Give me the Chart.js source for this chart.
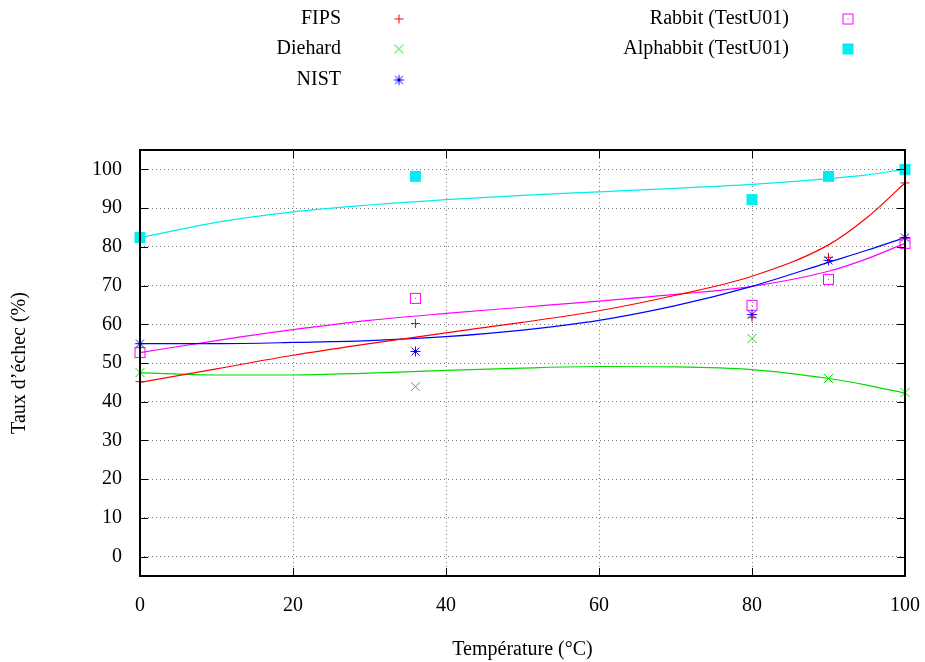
<!DOCTYPE html>
<html><head><meta charset="utf-8">
<script src="https://cdn.jsdelivr.net/npm/chart.js@4/dist/chart.umd.min.js"></script>
<style>html,body{margin:0;padding:0;background:#fff}#wrap{width:925px;height:662px;position:relative}</style>
</head><body><div id="wrap"><canvas id="c" width="925" height="662"></canvas></div>
<script>
// Measured points
const temps = [0, 36, 80, 90, 100];
const fips = [45.2, 60.2, 61.8, 77.3, 96.5];
const diehard = [47.5, 43.9, 56.3, 46.0, 42.4];
const nist = [55.0, 53.0, 62.5, 76.5, 82.4];
const rabbit = [52.7, 66.7, 64.9, 71.6, 80.9];
const alphabbit = [82.4, 98.2, 92.2, 98.2, 100];

// Fitted curves
const fitX = [0, 10, 20, 30, 40, 50, 60, 70, 80, 90, 95, 100];
const fipsFit = [45, 48.5, 52, 55, 57.8, 60.5, 63.5, 67.5, 72.4, 80.5, 87.5, 96.5];
const diehardFit = [47.5, 46.9, 46.9, 47.4, 48.1, 48.7, 49.1, 49.0, 48.3, 46.0, 44.3, 42.2];
const nistFit = [55, 55, 55.3, 55.8, 56.8, 58.5, 61, 64.8, 69.8, 76, 79.1, 82.4];
const rabbitFit = [52.7, 55.8, 58.6, 61, 62.8, 64.4, 66, 67.7, 69.8, 73.7, 76.9, 80.9];
const alphabbitFit = [82.4, 86.3, 89, 90.8, 92.2, 93.3, 94.2, 95.1, 96.1, 97.6, 98.6, 100];

const seriesNames = ['FIPS', 'Diehard', 'NIST', 'Rabbit (TestU01)', 'Alphabbit (TestU01)'];
const xTicks = [0, 20, 40, 60, 80, 100];
const yTicks = [0, 10, 20, 30, 40, 50, 60, 70, 80, 90, 100];
const xTitle = 'Température (°C)';
const yTitle = 'Taux d\u2019échec (%)';

const FONT = '"Liberation Serif", "Times New Roman", serif';
const colors = ['#ff0000', '#00dd00', '#0000ff', '#ff00ff', '#00eeee'];

function pts(xs, ys) { return xs.map((x, i) => ({x: x, y: ys[i]})); }

// custom point styles
function makeCanvas(kind, color) {
  const c = document.createElement('canvas');
  c.width = 15; c.height = 15;
  const g = c.getContext('2d');
  g.strokeStyle = color; g.fillStyle = color; g.lineWidth = 1;
  const m = 7.5;
  if (kind === 'plus') {
    g.beginPath(); g.moveTo(m - 4.5, m); g.lineTo(m + 4.5, m); g.moveTo(m, m - 4.5); g.lineTo(m, m + 4.5); g.stroke();
  } else if (kind === 'x') {
    g.beginPath(); g.moveTo(m - 4.5, m - 4.5); g.lineTo(m + 4.5, m + 4.5); g.moveTo(m + 4.5, m - 4.5); g.lineTo(m - 4.5, m + 4.5); g.stroke();
  } else if (kind === 'star') {
    g.beginPath(); g.moveTo(m - 5, m); g.lineTo(m + 5, m); g.moveTo(m, m - 5); g.lineTo(m, m + 5);
    g.moveTo(m - 4, m - 4); g.lineTo(m + 4, m + 4); g.moveTo(m + 4, m - 4); g.lineTo(m - 4, m + 4); g.stroke();
  } else if (kind === 'box') {
    g.strokeRect(2.5, 2.5, 10, 10);
    g.fillRect(7, 7, 1, 1);
  } else if (kind === 'fbox') {
    g.fillRect(2, 2, 11, 11);
  }
  return c;
}
const kinds = ['plus', 'x', 'star', 'box', 'fbox'];
const styles = kinds.map((k, i) => makeCanvas(k, colors[i]));

const pointSets = [fips, diehard, nist, rabbit, alphabbit];
const fitSets = [fipsFit, diehardFit, nistFit, rabbitFit, alphabbitFit];

const datasets = [];
fitSets.forEach((f, i) => {
  datasets.push({
    type: 'line', label: seriesNames[i] + ' fit', data: pts(fitX, f),
    borderColor: colors[i], borderWidth: 1.2, pointRadius: 0, fill: false,
    cubicInterpolationMode: 'monotone', order: 2
  });
});
pointSets.forEach((p, i) => {
  datasets.push({
    type: 'scatter', label: seriesNames[i], data: pts(temps, p),
    pointStyle: styles[i], pointRadius: 7, borderColor: colors[i], backgroundColor: colors[i],
    showLine: false, clip: false, order: 1
  });
});

const legendPlugin = {
  id: 'gpLegend',
  afterDraw(chart) {
    const ctx = chart.ctx;
    ctx.save();
    ctx.font = '20px ' + FONT;
    ctx.fillStyle = '#000';
    ctx.textAlign = 'right';
    ctx.textBaseline = 'middle';
    const pos = [
      {tx: 341, sx: 399, y: 19}, {tx: 341, sx: 399, y: 49}, {tx: 341, sx: 399, y: 80},
      {tx: 789, sx: 848, y: 19}, {tx: 789, sx: 848, y: 49}
    ];
    seriesNames.forEach((n, i) => {
      ctx.fillText(n, pos[i].tx, pos[i].y);
      ctx.drawImage(styles[i], pos[i].sx - 7.5, pos[i].y - 7.5);
    });
    ctx.restore();
  }
};

const framePlugin = {
  id: 'gpFrame',
  afterDatasetsDraw(chart) {
    const {ctx, chartArea: a, scales: {x, y}} = chart;
    ctx.save();
    ctx.strokeStyle = '#000';
    ctx.lineWidth = 1;
    ctx.beginPath();
    const L = 8;
    yTicks.forEach(v => {
      const py = Math.round(y.getPixelForValue(v)) + 0.5;
      ctx.moveTo(a.left, py); ctx.lineTo(a.left + L, py);
      ctx.moveTo(a.right, py); ctx.lineTo(a.right - L, py);
    });
    xTicks.forEach(v => {
      const px = Math.round(x.getPixelForValue(v)) + 0.5;
      ctx.moveTo(px, a.bottom); ctx.lineTo(px, a.bottom - L);
      ctx.moveTo(px, a.top); ctx.lineTo(px, a.top + L);
    });
    ctx.stroke();
    ctx.lineWidth = 2;
    ctx.strokeRect(a.left, a.top, a.right - a.left, a.bottom - a.top);
    ctx.restore();
  }
};

Chart.defaults.color = '#000';
Chart.defaults.font.family = FONT;
Chart.defaults.font.size = 20;

new Chart(document.getElementById('c'), {
  type: 'scatter',
  data: {datasets: datasets},
  options: {
    responsive: false,
    animation: false,
    devicePixelRatio: 1,
    layout: {padding: {top: 150, right: 20, left: 0, bottom: 0}},
    plugins: {legend: {display: false}, tooltip: {enabled: false}},
    scales: {
      x: {
        type: 'linear', min: 0, max: 100,
        afterBuildTicks(s) { s.ticks = xTicks.map(v => ({value: v})); },
        afterFit(s) { s.height = 86; s.paddingLeft = 0; s.paddingRight = 0; },
        grid: {color: '#777', lineWidth: 1, drawTicks: false},
        border: {display: false, dash: [1, 3]},
        ticks: {padding: 18, font: {size: 20, family: FONT}, color: '#000', maxRotation: 0},
        title: {display: true, text: xTitle, font: {size: 20, family: FONT}, color: '#000', padding: {top: 0, bottom: 0}}
      },
      y: {
        type: 'linear', min: -5, max: 105,
        afterBuildTicks(s) { s.ticks = yTicks.map(v => ({value: v})); },
        afterFit(s) { s.width = 140; s.paddingTop = 0; s.paddingBottom = 0; },
        grid: {color: '#777', lineWidth: 1, drawTicks: false},
        border: {display: false, dash: [1, 3]},
        ticks: {padding: 18, font: {size: 20, family: FONT}, color: '#000'},
        title: {display: true, text: yTitle, font: {size: 20, family: FONT}, color: '#000', padding: {top: 8, bottom: 0}}
      }
    }
  },
  plugins: [legendPlugin, framePlugin]
});
</script>
</body></html>
